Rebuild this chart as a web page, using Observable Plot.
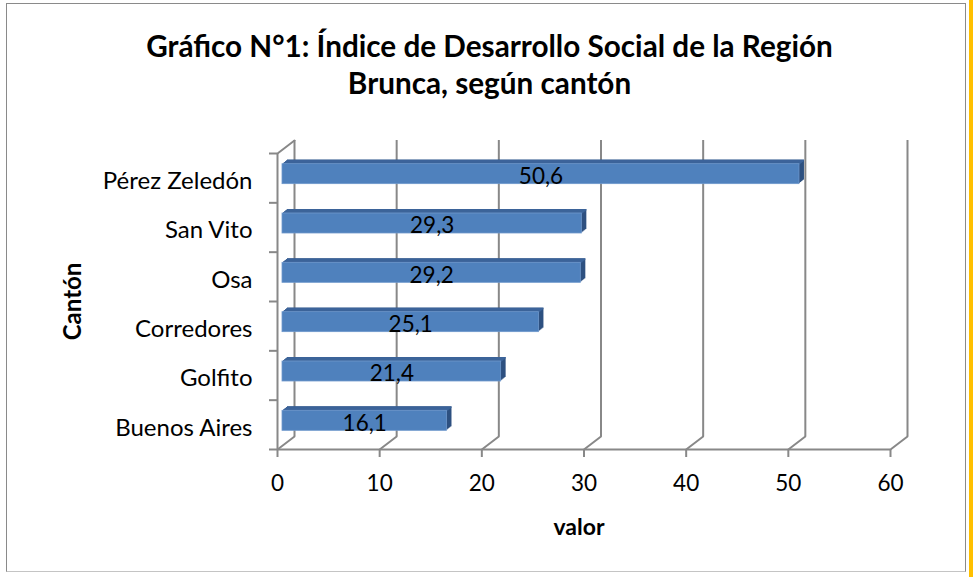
<!DOCTYPE html>
<html><head><meta charset="utf-8">
<script src="https://cdn.jsdelivr.net/npm/d3@7"></script>
<script src="https://cdn.jsdelivr.net/npm/@observablehq/plot@0.6"></script>
<style>
html,body{margin:0;padding:0;background:#fff;}
#wrap{position:relative;width:973px;height:577px;overflow:hidden;background:#fff;}
#box{position:absolute;left:6px;top:3px;width:960px;height:569px;border:1.5px solid #8a8a8a;border-bottom-color:#c4c4c4;box-sizing:border-box;}
#edge{position:absolute;left:969px;top:0;width:4px;height:577px;background:#ffc000;}
#chart{position:absolute;left:0;top:0;}
</style></head>
<body>
<div id="wrap"><div id="box"></div><div id="edge"></div><div id="chart"></div></div>
<script>
const categories = ["Pérez Zeledón", "San Vito", "Osa", "Corredores", "Golfito", "Buenos Aires"];
const values = [50.6, 29.3, 29.2, 25.1, 21.4, 16.1];
const xTicks = [0, 10, 20, 30, 40, 50, 60];
const titleText = "Gráfico N°1: Índice de Desarrollo Social de la Región\nBrunca, según cantón";
const xLabel = "valor";
const yLabel = "Cantón";

const data = categories.map((c, i) => ({canton: c, valor: values[i], pos: i}));
const boundaries = d3.range(categories.length + 1);
const fmt = v => v.toFixed(1).replace(".", ",");

const grid = "#888888";
const font = "Lato, 'Open Sans', sans-serif";
const spoke = {draw(context, l) { context.moveTo(0, 0); context.lineTo(0, -l); }};
const depthAngle = 52.6, depthLen = 21.4;

const layers = [];
for (let k = 5; k >= 1; k--) {
  layers.push(Plot.rectX(data, {x1: 0, x2: "valor", y1: "pos", y2: d => d.pos + 1,
    insetTop: 14.67, insetBottom: 14.67, dx: 5 + k, dy: -4 - 0.8 * k, fill: "#2e5180"}));
}
for (let k = 5; k >= 1; k--) {
  layers.push(Plot.rectX(data, {x1: 0, x2: "valor", y1: "pos", y2: d => d.pos + 1,
    insetTop: 14.67, insetBottom: 49.33 - 14.67 - 1.6, dx: 5 + k, dy: -4 - 0.8 * k, fill: "#3c649a"}));
}

const chart = Plot.plot({
  width: 973,
  height: 577,
  marginTop: 153,
  marginBottom: 128,
  marginLeft: 277,
  marginRight: 83,
  style: {fontFamily: font, background: "transparent"},
  x: {domain: [0, 60], axis: null},
  y: {domain: [0, categories.length], reverse: true, axis: null},
  marks: [
    // back wall gridlines
    Plot.ruleX(xTicks, {x: d => d, dx: 17, dy: -13, stroke: grid, strokeWidth: 2}),
    // floor diagonals
    Plot.vector(xTicks, {x: d => d, y: categories.length, length: depthLen, rotate: depthAngle, anchor: "start", shape: spoke, stroke: grid, strokeWidth: 2}),
    // left wall top diagonal
    Plot.vector([0], {x: 0, y: 0, length: depthLen, rotate: depthAngle, anchor: "start", shape: spoke, stroke: grid, strokeWidth: 2}),
    // front axis lines
    Plot.ruleX([0], {stroke: grid, strokeWidth: 2}),
    Plot.ruleY([categories.length], {stroke: grid, strokeWidth: 2}),
    Plot.axisY(boundaries, {tickSize: 8, tickFormat: () => "", stroke: grid, strokeWidth: 2, label: null}),
    Plot.axisX(xTicks, {tickSize: 8, tickPadding: 18, fontSize: 22.5, stroke: grid, strokeWidth: 2, fill: "black", label: null}),
    // bars: depth layers then front face
    ...layers,
    Plot.rectX(data, {x1: 0, x2: "valor", y1: "pos", y2: d => d.pos + 1,
      insetTop: 14.67, insetBottom: 14.67, dx: 5, dy: -4, fill: "#4f81bd", stroke: "#6f98cc", strokeWidth: 0.8}),
    // value labels
    Plot.text(data, {x: d => d.valor / 2, y: d => d.pos + 0.5, text: d => fmt(d.valor), dx: 5, dy: -1.5, fontSize: 22.5, fill: "black"}),
    // category labels
    Plot.text(data, {y: d => d.pos + 0.5, text: "canton", frameAnchor: "left", textAnchor: "end", dx: -25, dy: 3, fontSize: 24, fill: "black"}),
    // axis titles
    Plot.text([yLabel], {frameAnchor: "left", textAnchor: "middle", lineAnchor: "middle", rotate: -90, dx: -204, fontSize: 24, fontWeight: "bold", fill: "black"}),
    Plot.text([xLabel], {frameAnchor: "bottom", textAnchor: "middle", lineAnchor: "middle", dx: -5, dy: 78, fontSize: 23, fontWeight: "bold", fill: "black"}),
    // title
    Plot.text([titleText], {frameAnchor: "top", dx: -94.5, dy: -90, lineAnchor: "middle", lineHeight: 1.25, fontSize: 29.7, fontWeight: "bold", fill: "black"})
  ]
});
document.getElementById("chart").appendChild(chart);
</script>
</body></html>
